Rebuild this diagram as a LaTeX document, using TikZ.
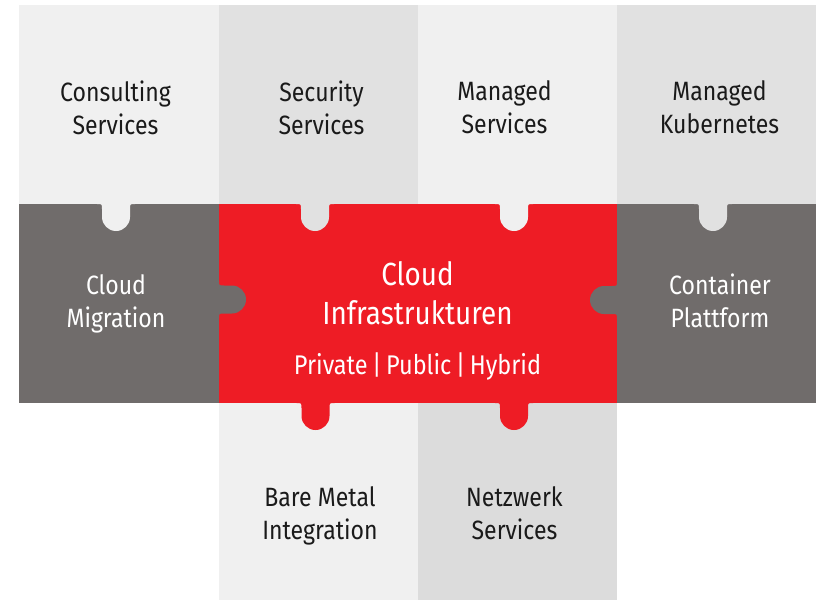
\documentclass[tikz,border=0pt]{standalone}
\usepackage{fontspec}
\setmainfont{Fira Sans}[FakeStretch=0.87]
\definecolor{cLight}{HTML}{F0F0F0}
\definecolor{cMid}{HTML}{E1E1E1}
\definecolor{cMidB}{HTML}{DCDCDC}
\definecolor{cDark}{HTML}{706C6B}
\definecolor{cRed}{HTML}{EE1C25}
\definecolor{cText}{HTML}{1A1A1A}
\tikzset{
  puzzletab/.pic={
    \fill[pic actions] (-19,-1) -- (-19,0) .. controls (-14,0) .. (-14,5) -- (-14,13)
      .. controls (-14,20.7) and (-7.7,27) .. (0,27)
      .. controls (7.7,27) and (14,20.7) .. (14,13) -- (14,5)
      .. controls (14,0) .. (19,0) -- (19,-1) -- cycle;
  },
  lbl/.style={align=center, inner sep=0pt, text=cText, font=\fontsize{26.5}{33}\selectfont},
  wlbl/.style={lbl, text=white},
  biglbl/.style={align=center, inner sep=0pt, text=white, font=\fontsize{32}{39}\selectfont},
}
\begin{document}
\begin{tikzpicture}[x=1pt,y=-1pt]
\useasboundingbox (0,0) rectangle (820,600);
% top row
\fill[cLight] (19,5) rectangle (219.5,204);
\fill[cMid] (219,5) rectangle (418.5,204);
\fill[cLight] (418,5) rectangle (617.5,204);
\fill[cMid] (617,5) rectangle (816,204);
% middle row
\fill[cDark] (19,203.5) rectangle (219.5,403);
\fill[cRed] (219,203.5) rectangle (617.5,403);
\fill[cDark] (617,203.5) rectangle (816,403);
% bottom row
\fill[cLight] (219,402.5) rectangle (418.5,600);
\fill[cMidB] (418,402.5) rectangle (617,600);
% tabs from top row
\pic[fill=cLight] at (116,204) {puzzletab};
\pic[fill=cMid] at (315,204) {puzzletab};
\pic[fill=cLight] at (514,204) {puzzletab};
\pic[fill=cMid] at (713,204) {puzzletab};
% side tabs
\pic[fill=cDark, rotate=90] at (219,299.5) {puzzletab};
\pic[fill=cDark, rotate=-90] at (617,300) {puzzletab};
% tabs from red piece
\pic[fill=cRed] at (315.5,403) {puzzletab};
\pic[fill=cRed] at (514,403) {puzzletab};
% labels
\node[lbl] (consult) at (115.5,107.5) {Consulting\\Services};
\node[lbl] (security) at (321.5,107.5) {Security\\Services};
\node[lbl] (managed) at (504.5,107.5) {Managed\\Services};
\node[lbl] (kube) at (719.5,107.5) {Managed\\Kubernetes};
\node[wlbl] (migration) at (116,303.5) {Cloud\\Migration};
\node[wlbl] (container) at (720,301) {Container\\Plattform};
\node[biglbl] (infra) at (417.5,293.5) {Cloud\\Infrastrukturen};
\node[wlbl, font=\fontsize{27}{33}\selectfont] (types) at (417.5,366) {Private\,|\,Public\,|\,Hybrid};
\node[lbl] (bare) at (320,515.5) {Bare Metal\\Integration};
\node[lbl] (netz) at (514.5,513.5) {Netzwerk\\Services};
\end{tikzpicture}
\end{document}
